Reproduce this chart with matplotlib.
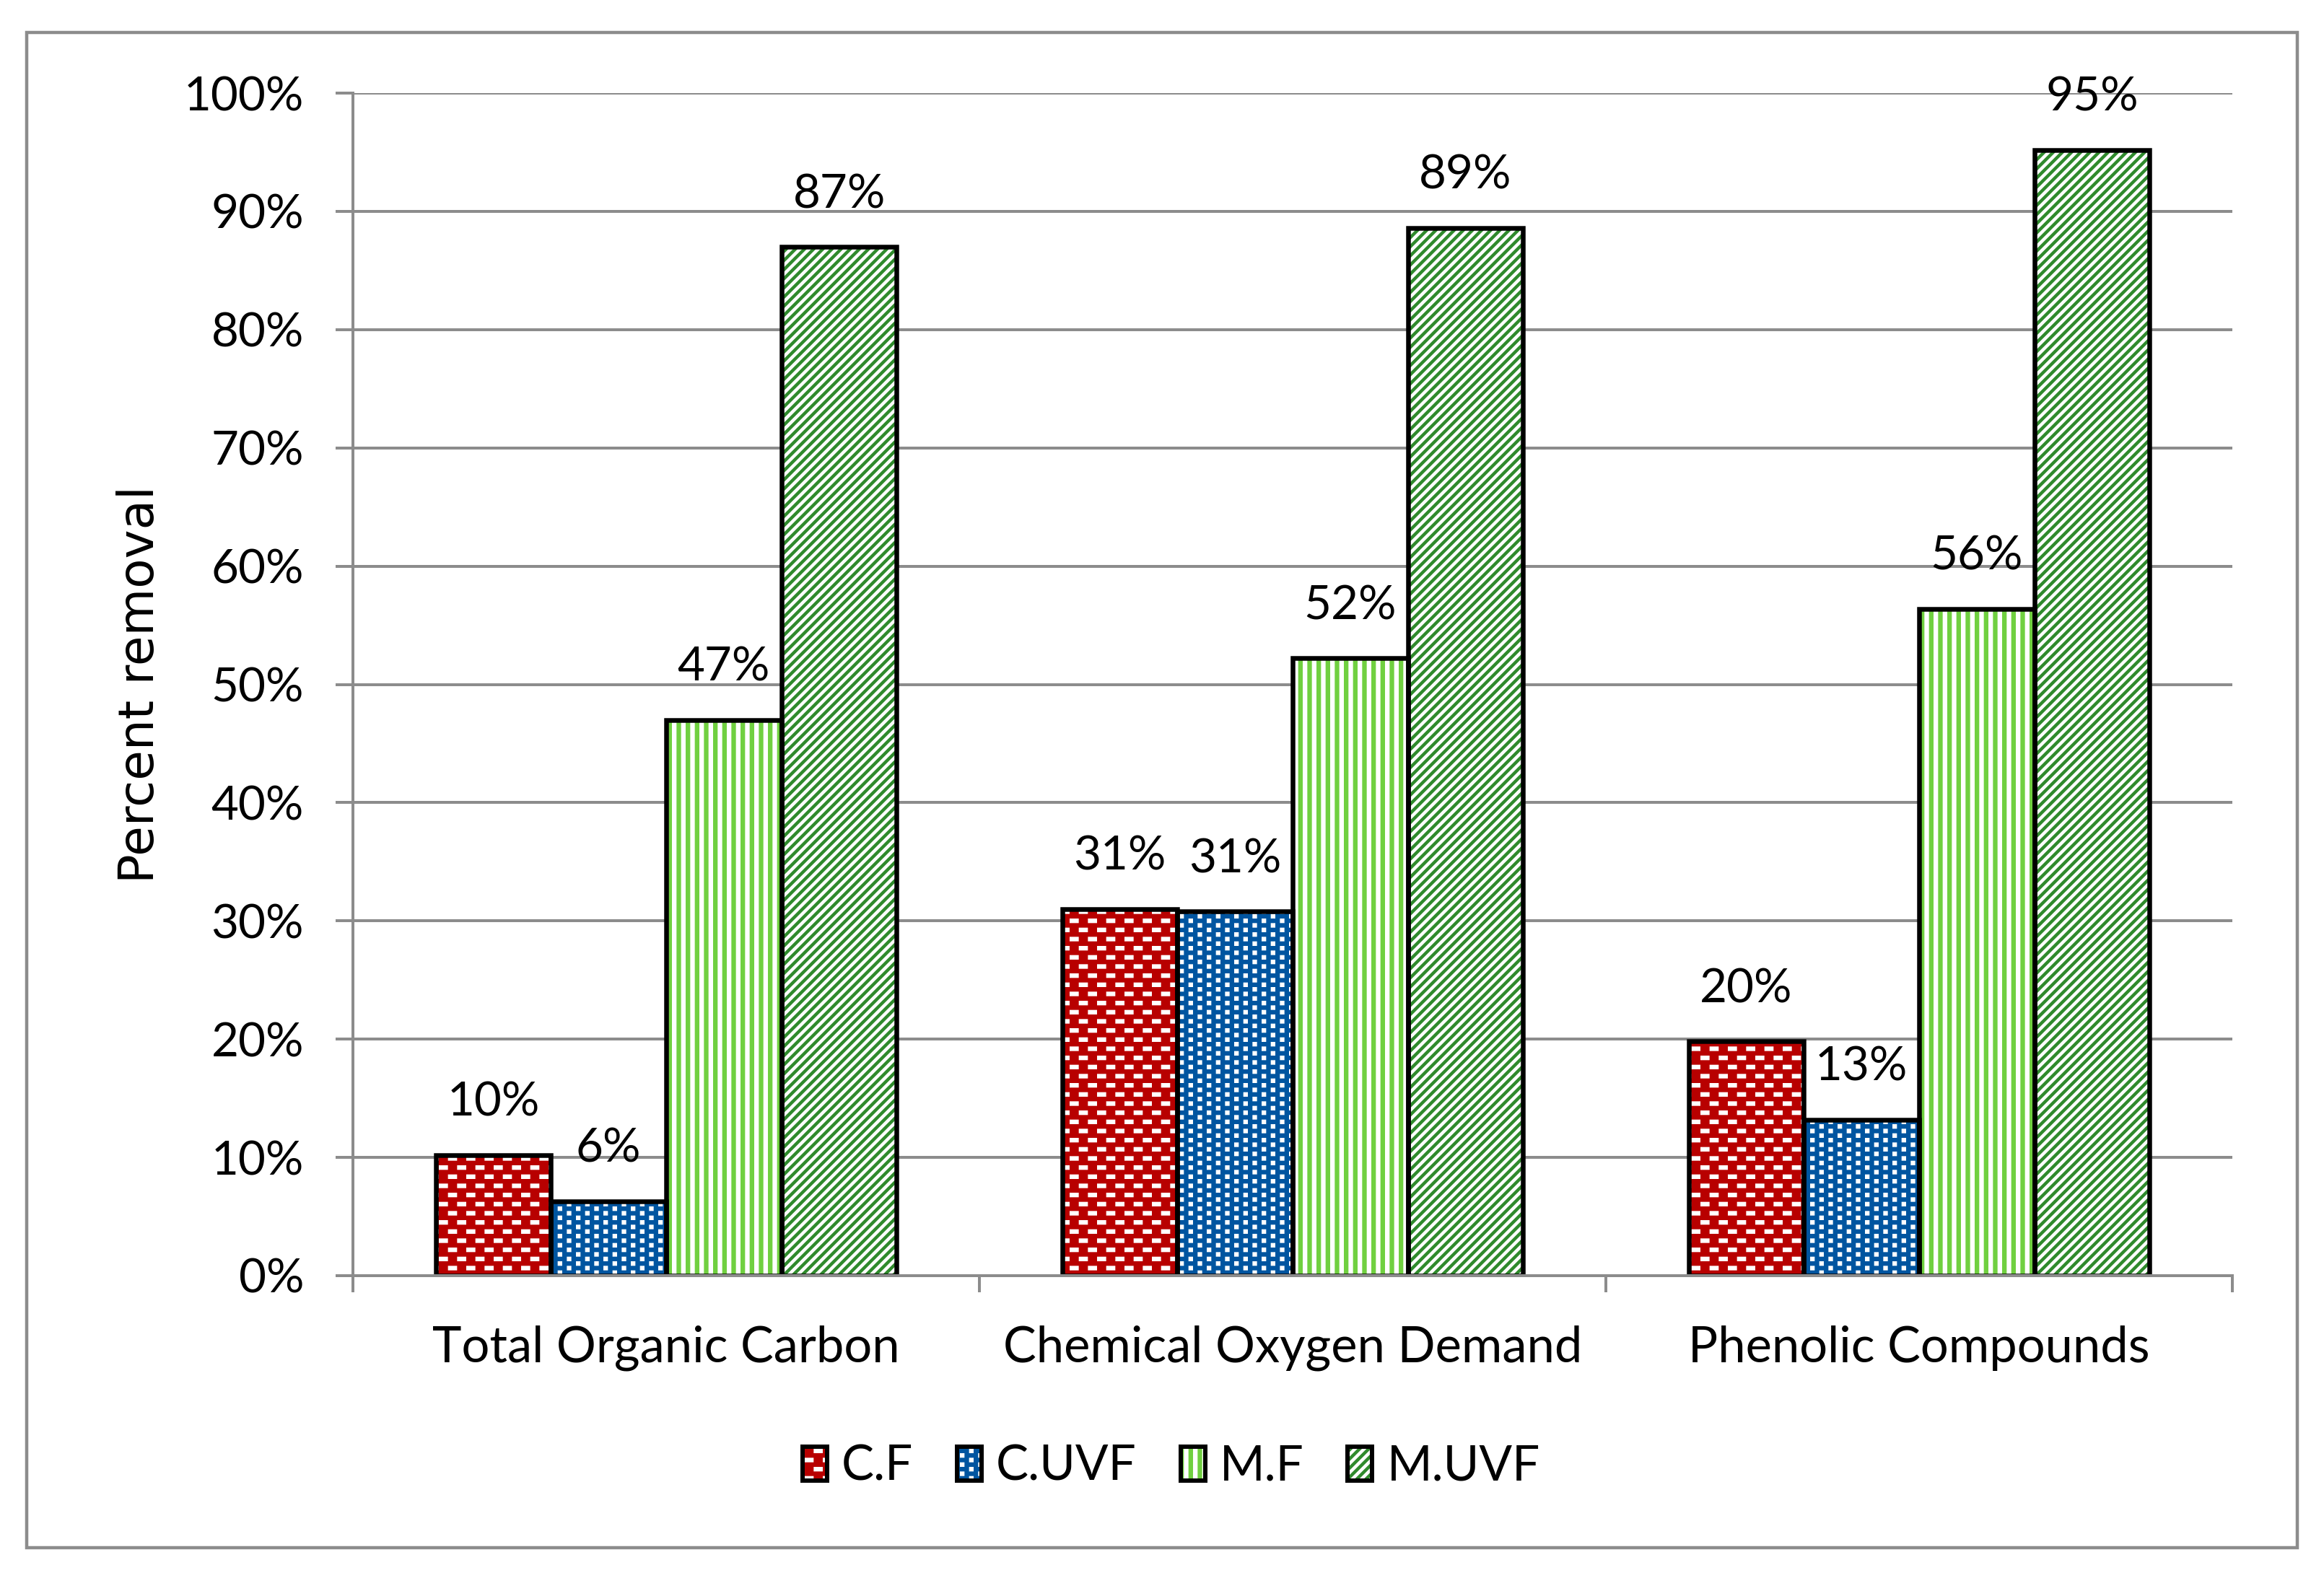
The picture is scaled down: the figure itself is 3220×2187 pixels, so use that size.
import numpy as np
import matplotlib
matplotlib.use("Agg")
import matplotlib.pyplot as plt
import matplotlib.hatch as mhatch
from matplotlib.path import Path
from matplotlib.patches import Patch, Rectangle
from matplotlib.legend_handler import HandlerTuple

# ---------------- data ----------------
categories = ["Total Organic Carbon", "Chemical Oxygen Demand", "Phenolic Compounds"]
series_names = ["C.F", "C.UVF", "M.F", "M.UVF"]
cf_vals = [10.2, 31.0, 19.8]
cuvf_vals = [6.3, 30.8, 13.2]
mf_vals = [47.0, 52.2, 56.4]
muvf_vals = [87.0, 88.6, 95.2]
y_ticks = [0, 10, 20, 30, 40, 50, 60, 70, 80, 90, 100]
y_tick_labels = ["0%", "10%", "20%", "30%", "40%", "50%", "60%", "70%", "80%", "90%", "100%"]
y_label = "Percent removal"

series_vals = [cf_vals, cuvf_vals, mf_vals, muvf_vals]


# ---------------- custom fill patterns (Excel-like) ----------------
class _PolyHatch(mhatch.HatchPatternBase):
    char = None

    def __init__(self, hatch, density):
        self.polys = self.make_polys() if (hatch and self.char in hatch) else []
        self.num_vertices = sum(len(p) + 1 for p in self.polys)

    def make_polys(self):
        return []

    def set_vertices_and_codes(self, vertices, codes):
        i = 0
        for p in self.polys:
            n = len(p)
            vertices[i:i + n] = p
            vertices[i + n] = p[0]
            codes[i] = Path.MOVETO
            codes[i + 1:i + n] = Path.LINETO
            codes[i + n] = Path.CLOSEPOLY
            i += n + 1


def _rect(x0, y0, w, h):
    return np.array([[x0, y0], [x0 + w, y0], [x0 + w, y0 + h], [x0, y0 + h]])


class _Bricks(_PolyHatch):       # white bricks on red
    char = "."

    def make_polys(self):
        polys = []
        for j in range(-1, 7):
            off = (j % 2) / 6.0
            for k in range(-1, 4):
                polys.append(_rect(off + k / 3.0, j / 6.0, 1 / 6.0, 1 / 12.0))
        return polys


class _Squares(_PolyHatch):      # small white squares on blue
    char = "o"

    def make_polys(self):
        polys = []
        for i in range(-1, 7):
            off = (i % 2) / 12.0
            for k in range(-1, 7):
                polys.append(_rect(i / 6.0, off + k / 6.0, 1 / 12.0, 1 / 12.0))
        return polys


class _VStripes(_PolyHatch):     # vertical stripes
    char = "|"

    def make_polys(self):
        return [_rect(i / 6.0, -0.2, 1 / 12.0, 1.4) for i in range(-1, 7)]


class _DStripes(_PolyHatch):     # wide upward diagonal stripes
    char = "/"

    def make_polys(self):
        w = 1 / 12.0
        polys = []
        for k in range(-10, 8):
            c = k / 6.0
            polys.append(np.array([[c - 0.3, -0.3], [c - 0.3 + w, -0.3],
                                   [c + 1.3 + w, 1.3], [c + 1.3, 1.3]]))
        return polys


mhatch._hatch_types = [_Bricks, _Squares, _VStripes, _DStripes]

# ---------------- styles ----------------
DPI = 76
W, H = 3220, 2187
px = 72.0 / DPI  # points per pixel

face_colors = ["#B80000", "#0055A0", "white", "white"]
hatch_colors = ["white", "white", "#70D040", "#2F8A2C"]
hatches = [".", "o", "|", "/"]
GRAY = "#8C8C8C"
FONT = "Lato"
FS = 62

plt.rcParams["font.family"] = [FONT, "DejaVu Sans"]
plt.rcParams["hatch.linewidth"] = 0.0

fig = plt.figure(figsize=(W / DPI, H / DPI), dpi=DPI)
ax = fig.add_axes([489 / W, 1 - 1768 / H, 2604 / W, 1639 / H])

x = np.arange(len(categories))
bw = 0.184

legend_handles = []
for j, vals in enumerate(series_vals):
    pos = x + (j - 1.5) * bw
    ax.bar(pos, vals, width=bw, color=face_colors[j],
           edgecolor=hatch_colors[j], hatch=hatches[j],
           linewidth=0, zorder=2)
    ax.bar(pos, vals, width=bw, fill=False, edgecolor="black",
           linewidth=6.5 * px, zorder=3)
    lp = Patch(facecolor=face_colors[j], edgecolor=hatch_colors[j],
               hatch=hatches[j], linewidth=0)
    lo = Patch(facecolor="none", edgecolor="black", linewidth=6 * px)
    legend_handles.append((lp, lo))
    for xi, v in zip(pos, vals):
        ax.annotate(f"{v:.0f}%", (xi, v), xytext=(0, 54 * px),
                    textcoords="offset points", ha="center", va="baseline",
                    fontsize=FS, family=FONT, color="black", zorder=5)

# axes styling
ax.set_xlim(-0.5, len(categories) - 0.5)
ax.set_ylim(0, 100)
ax.set_yticks(y_ticks)
ax.set_yticklabels(y_tick_labels, fontsize=FS, family=FONT)
ax.yaxis.grid(True, color=GRAY, linewidth=4 * px, zorder=0)
ax.set_axisbelow(True)

ax.set_xticks(np.arange(len(categories) + 1) - 0.5)
ax.set_xticklabels([])
ax.set_xticks(x, minor=True)
ax.set_xticklabels(categories, minor=True, fontsize=FS + 3, family=FONT)
ax.tick_params(axis="x", which="major", length=23 * px, width=4 * px,
               color=GRAY, direction="out")
ax.tick_params(axis="x", which="minor", length=0, pad=69 * px)
ax.tick_params(axis="y", which="major", length=24 * px, width=4 * px,
               color=GRAY, direction="out", pad=44 * px)

for s in ["top", "right"]:
    ax.spines[s].set_visible(False)
for s in ["left", "bottom"]:
    ax.spines[s].set_color(GRAY)
    ax.spines[s].set_linewidth(4 * px)
    ax.spines[s].set_zorder(4)

ax.set_ylabel(y_label, fontsize=FS + 2, family=["DejaVu Sans"])
ax.yaxis.set_label_coords(-0.1005, 0.5)

leg = fig.legend(legend_handles, series_names, loc="center",
                 bbox_to_anchor=(0.504, 1 - 2033 / H), ncol=4, frameon=False,
                 fontsize=FS + 2, handlelength=0.5, handleheight=0.7,
                 handletextpad=0.3, columnspacing=0.9,
                 handler_map={tuple: HandlerTuple(ndivide=1)})

# outer chart border
fig.patches.append(Rectangle((37 / W, 1 - 2145 / H), (3183 - 37) / W, (2145 - 45) / H,
                             transform=fig.transFigure, fill=False,
                             edgecolor=GRAY, linewidth=4.5 * px, zorder=10))

fig.savefig("out.png", dpi=DPI)
